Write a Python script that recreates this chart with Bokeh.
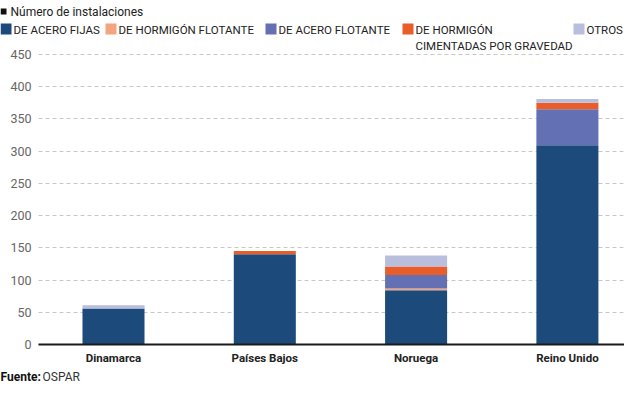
from bokeh.plotting import figure
from bokeh.models import Range1d, FixedTicker, Label, BoxAnnotation, ColumnDataSource
from bokeh.embed import file_html
from bokeh.resources import INLINE

# ---- data ----
countries = ["Dinamarca", "Países Bajos", "Noruega", "Reino Unido"]
acero_fijas = [56, 140, 84, 309]
hormigon_flotante = [0, 0, 3, 0]
acero_flotante = [0, 0, 21, 56]
hormigon_gravedad = [0, 5, 13, 10]
otros = [5, 0, 17, 6]
series_keys = ["acero_fijas", "hormigon_flotante", "acero_flotante", "hormigon_gravedad", "otros"]
series_labels = ["DE ACERO FIJAS", "DE HORMIGÓN FLOTANTE", "DE ACERO FLOTANTE",
                 "DE HORMIGÓN", "OTROS"]
series_labels_2 = ["", "", "", "CIMENTADAS POR GRAVEDAD", ""]
colors = ["#1c4b7b", "#f4a47e", "#6470b4", "#e85d2a", "#b9bedc"]
y_ticks = [0, 50, 100, 150, 200, 250, 300, 350, 400, 450]
title_text = "Número de instalaciones"
source_bold = "Fuente:"
source_text = "OSPAR"

FONT = "Roboto"

src = ColumnDataSource(dict(pos=list(range(len(countries))), acero_fijas=acero_fijas,
                            hormigon_flotante=hormigon_flotante, acero_flotante=acero_flotante,
                            hormigon_gravedad=hormigon_gravedad, otros=otros))

# ---- layout constants (pixels) ----
W, H = 624, 383
PX = 151.3            # pixels per category
C0 = 113              # pixel x of first category centre
AXL = 38              # pixel x of plot-area left edge
Y0, Y450 = 344, 54    # pixel y of value 0 and 450
PY = (Y0 - Y450) / 450.0

x_start = -C0 / PX
x_end = (W - C0) / PX
y_start = -(H - Y0) / PY
y_end = 450 + Y450 / PY
x_axis_left = x_start + AXL / PX

p = figure(width=W, height=H, x_range=Range1d(x_start, x_end), y_range=Range1d(y_start, y_end),
           output_backend="svg", toolbar_location=None,
           min_border_left=0, min_border_right=0, min_border_top=0, min_border_bottom=0,
           title=None)
p.outline_line_color = None
p.background_fill_color = "white"
p.border_fill_color = "white"

p.vbar_stack(series_keys, x="pos", width=0.41, color=colors, source=src, line_width=0)

# y axis
p.yaxis.fixed_location = x_axis_left
p.yaxis.ticker = FixedTicker(ticks=y_ticks)
p.yaxis.axis_line_color = None
p.yaxis.major_tick_line_color = None
p.yaxis.minor_tick_line_color = None
p.yaxis.major_tick_out = 0
p.yaxis.major_tick_in = 0
p.yaxis.major_label_standoff = 7
p.yaxis.major_label_text_font = FONT
p.yaxis.major_label_text_font_size = "12.5px"
p.yaxis.major_label_text_color = "#666666"

# x axis (categories)
p.xaxis.fixed_location = 0
p.xaxis.bounds = (x_axis_left, x_end)
p.xaxis.ticker = FixedTicker(ticks=list(range(len(countries))))
p.xaxis.major_label_overrides = {i: c for i, c in enumerate(countries)}
p.xaxis.axis_line_color = "#1a1a1a"
p.xaxis.axis_line_width = 2
p.xaxis.major_tick_line_color = None
p.xaxis.minor_tick_line_color = None
p.xaxis.major_tick_out = 0
p.xaxis.major_tick_in = 0
p.xaxis.major_label_standoff = 6
p.xaxis.major_label_text_font = FONT
p.xaxis.major_label_text_font_size = "11.5px"
p.xaxis.major_label_text_font_style = "bold"
p.xaxis.major_label_text_color = "#222222"

p.xgrid.grid_line_color = None
yg = p.ygrid[0]
yg.grid_line_color = "#c8c8c8"
yg.grid_line_dash = "4 3"
yg.grid_line_width = 1
if "cross_bounds" in yg.properties():
    yg.cross_bounds = (x_axis_left, x_end)
else:
    p.add_layout(BoxAnnotation(left=0, right=AXL - 1, top=H - Y450 + 3, bottom=H - Y0 - 3,
                               left_units="screen", right_units="screen",
                               top_units="screen", bottom_units="screen",
                               fill_color="white", fill_alpha=1, line_alpha=0, level="underlay"))


def box(fx, fy, w, h, color):
    p.add_layout(BoxAnnotation(left=fx, right=fx + w, top=H - fy, bottom=H - (fy + h),
                               left_units="screen", right_units="screen",
                               top_units="screen", bottom_units="screen",
                               fill_color=color, fill_alpha=1, line_alpha=0, level="overlay"))


def text(fx, fy, t, size="11.5px", style="normal", color="#1a1a1a"):
    p.add_layout(Label(x=fx, y=H - fy, x_units="screen", y_units="screen", text=t,
                       text_font=FONT, text_font_size=size, text_font_style=style,
                       text_color=color, text_baseline="middle", text_align="left"))


# title
box(0, 8, 6, 6, "#111111")
text(10, 11, title_text, size="12px", color="#222222")

# legend
leg_x = [0, 105, 265, 402, 573]
for i, (lx, lab, lab2) in enumerate(zip(leg_x, series_labels, series_labels_2)):
    box(lx, 23, 11, 11, colors[i])
    text(lx + 13, 29, lab, color="#222222")
    if lab2:
        text(lx + 13, 45, lab2, color="#222222")

# source
text(0, 376.5, source_bold, size="12px", style="bold", color="#111111")
text(42, 376.5, source_text, size="12px", color="#333333")

open("out.html", "w").write(file_html(p, INLINE))
